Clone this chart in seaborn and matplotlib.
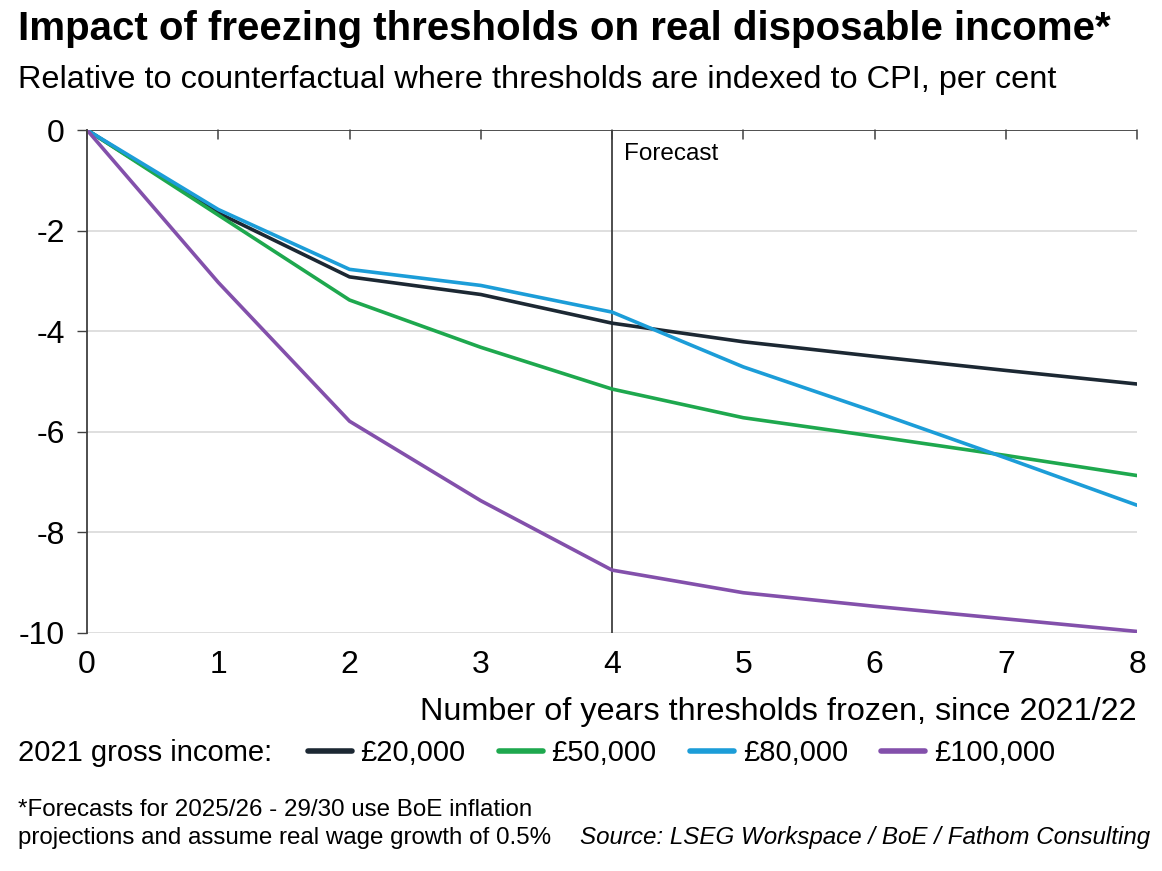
import pandas as pd
import numpy as np
import matplotlib
matplotlib.use("Agg")
import matplotlib.pyplot as plt
import seaborn as sns

# years since 2021/22 that thresholds have been frozen
years = [0, 1, 2, 3, 4, 5, 6, 7, 8]
income_20k = [0, -1.65, -2.92, -3.27, -3.84, -4.21, -4.50, -4.78, -5.05]
income_50k = [0, -1.69, -3.38, -4.32, -5.15, -5.72, -6.09, -6.47, -6.87]
income_80k = [0, -1.58, -2.77, -3.09, -3.62, -4.71, -5.60, -6.52, -7.46]
income_100k = [0, -3.03, -5.79, -7.37, -8.75, -9.20, -9.47, -9.72, -9.97]
series_names = ["£20,000", "£50,000", "£80,000", "£100,000"]
colors = ["#1c2833", "#1ea84e", "#1c9dd8", "#8350ab"]
y_ticks = [0, -2, -4, -6, -8, -10]

df = pd.DataFrame({
    "year": years * 4,
    "value": income_20k + income_50k + income_80k + income_100k,
    "income": sum([[n] * len(years) for n in series_names], []),
})

sns.set_theme(style="white")
plt.rcParams['font.family'] = ['Liberation Sans', 'DejaVu Sans']
plt.rcParams['text.color'] = 'black'
plt.rcParams['xtick.color'] = 'black'
plt.rcParams['ytick.color'] = 'black'

fig = plt.figure(figsize=(11.62, 8.71), dpi=100)
ax = fig.add_axes([0.0749, 0.2733, 0.9036, 0.5774])

sns.lineplot(data=df, x="year", y="value", hue="income", hue_order=series_names,
             palette=colors, linewidth=2.6, ax=ax, legend=False)

ax.set_xlim(0, 8)
ax.set_ylim(-10, 0)
ax.set_xticks(years)
ax.set_yticks(y_ticks)
ax.set_yticklabels([str(t) for t in y_ticks])
for t in [-2, -4, -6, -8, -10]:
    ax.axhline(t, color="#d9d9d9", lw=1.2, zorder=0)
ax.axhline(0, color="#404040", lw=1.3, zorder=1)
ax.axvline(4, color="#404040", lw=1.3, zorder=1)
ax.text(4.09, -0.47, "Forecast", fontsize=17.5, va="center", ha="left")

for s in ["top", "right", "bottom"]:
    ax.spines[s].set_visible(False)
ax.spines["left"].set_color("#404040")
ax.spines["left"].set_linewidth(1.3)
ax.tick_params(axis="y", direction="out", length=7, width=1, color="#404040",
               labelcolor="black", labelsize=23, pad=9, left=True)
ax.tick_params(axis="x", length=0, labelsize=23, labelcolor="black", pad=12, bottom=False)
# small ticks hanging from the zero line
for x in years:
    ax.plot([x, x], [0, -0.18], color="#404040", lw=1.1, clip_on=False, zorder=1)
ax.set_xlabel("")
ax.set_ylabel("")

fig.text(0.0155, 0.967, "Impact of freezing thresholds on real disposable income*",
         fontsize=29, fontweight="bold", va="center", ha="left")
fig.text(0.0155, 0.908, "Relative to counterfactual where thresholds are indexed to CPI, per cent",
         fontsize=23.4, va="center", ha="left")
fig.text(0.9785, 0.183, "Number of years thresholds frozen, since 2021/22",
         fontsize=23.3, va="center", ha="right")
fig.text(0.0155, 0.135, "2021 gross income:", fontsize=21, va="center", ha="left")

handles = [plt.Line2D([0], [0], color=c, lw=4) for c in colors]
fig.legend(handles, series_names, loc="center left", bbox_to_anchor=(0.265, 0.135),
           ncol=4, frameon=False, fontsize=21, handlelength=1.5, handletextpad=0.3,
           columnspacing=1.15, borderaxespad=0, borderpad=0)

fig.text(0.0155, 0.070, "*Forecasts for 2025/26 - 29/30 use BoE inflation",
         fontsize=17.4, va="center", ha="left")
fig.text(0.0155, 0.038, "projections and assume real wage growth of 0.5%",
         fontsize=17.4, va="center", ha="left")
fig.text(0.990, 0.038, "Source: LSEG Workspace / BoE / Fathom Consulting",
         fontsize=17.4, style="italic", va="center", ha="right")

fig.savefig("out.png", dpi=100)
